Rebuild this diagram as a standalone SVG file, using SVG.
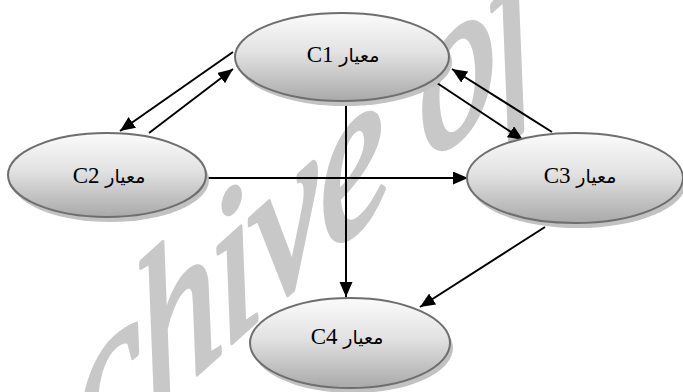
<svg xmlns="http://www.w3.org/2000/svg" width="683" height="392" viewBox="0 0 683 392">
<style>
.wm{font-family:"Liberation Serif",serif;font-style:italic;font-size:205px;letter-spacing:-4px;fill:#c8c8c8;stroke:#c8c8c8;stroke-width:5;stroke-linejoin:round}
.shadow{fill:#c2c2c2}
.node{fill:url(#g);stroke:#6e6e6e;stroke-width:2}
.lbl{font-family:"Liberation Serif",serif;font-size:23px;fill:#000;text-anchor:middle}
.ar{font-family:"DejaVu Sans",sans-serif;font-size:19px}
.edge{stroke:#000;stroke-width:2;fill:none;marker-end:url(#arr)}
</style>
<defs>
<linearGradient id="g" x1="0" y1="0" x2="0" y2="1">
<stop offset="0" stop-color="#fbfbfb"/>
<stop offset="0.45" stop-color="#e2e2e2"/>
<stop offset="1" stop-color="#a9a9a9"/>
</linearGradient>
<marker id="arr" markerUnits="userSpaceOnUse" markerWidth="16" markerHeight="14" refX="15" refY="6.5" orient="auto">
<path d="M0,0 L15,6.5 L0,13 z" fill="#000"/>
</marker>
</defs>
<rect width="683" height="392" fill="#fff"/>
<text class="wm" transform="matrix(0.743,-0.669,0.174,0.985,86,474)">chive of</text>
<g id="connectors">
<path class="edge" d="M233,52 L120,131"/>
<path class="edge" d="M149,133 L233,69"/>
<path class="edge" d="M437,83 L523,140"/>
<path class="edge" d="M552,132 L452,69"/>
<path class="edge" d="M206,178 L468,178"/>
<path class="edge" d="M346,103 L346,297"/>
<path class="edge" d="M545,227 L420,307"/>
</g>
<g id="C1">
<ellipse class="shadow" cx="345" cy="62" rx="107" ry="44"/>
<ellipse class="node" cx="342" cy="57" rx="107" ry="44"/>
<text class="lbl" x="343" y="62">C1 <tspan class="ar">معيار</tspan></text>
</g>
<g id="C2">
<ellipse class="shadow" cx="110" cy="180" rx="99" ry="42"/>
<ellipse class="node" cx="107" cy="175" rx="99" ry="42"/>
<text class="lbl" x="109" y="183">C2 <tspan class="ar">معيار</tspan></text>
</g>
<g id="C3">
<ellipse class="shadow" cx="578" cy="183" rx="108" ry="45"/>
<ellipse class="node" cx="575" cy="178" rx="108" ry="45"/>
<text class="lbl" x="580" y="183">C3 <tspan class="ar">معيار</tspan></text>
</g>
<g id="C4">
<ellipse class="shadow" cx="353" cy="348" rx="100" ry="45"/>
<ellipse class="node" cx="350" cy="343" rx="100" ry="45"/>
<text class="lbl" x="347" y="344">C4 <tspan class="ar">معيار</tspan></text>
</g>
</svg>
